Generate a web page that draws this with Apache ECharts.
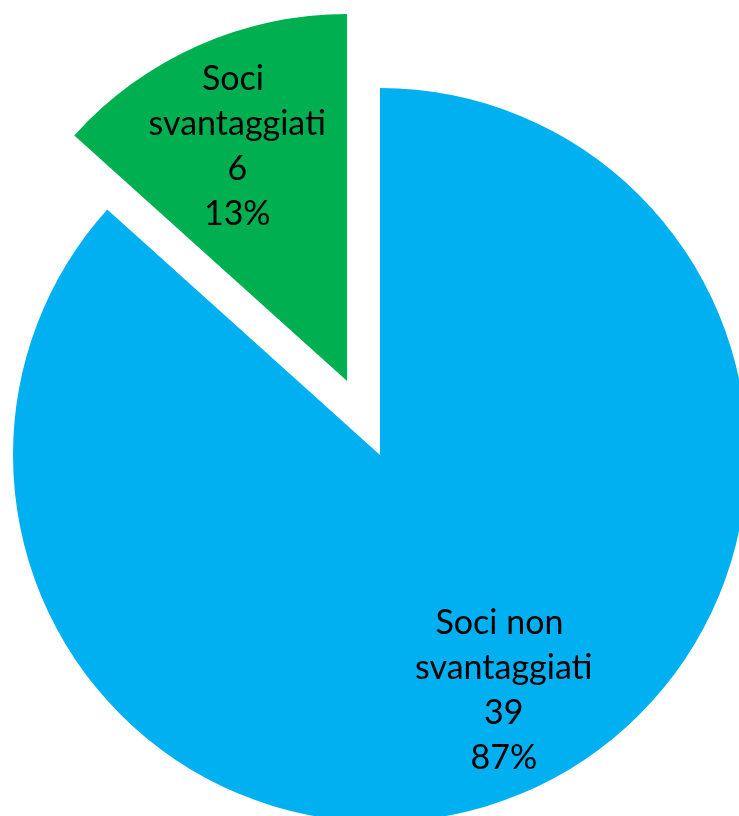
<!DOCTYPE html>
<html>
<head>
<meta charset="utf-8">
<script src="https://cdn.jsdelivr.net/npm/echarts@6/dist/echarts.min.js"></script>
<style>
html,body{margin:0;padding:0;background:#fff;}
#chart{width:739px;height:816px;}
</style>
</head>
<body>
<div id="chart"></div>
<script>
const categories = ['Soci non svantaggiati', 'Soci svantaggiati'];
const values = [39, 6];
const colors = ['#00B0F0', '#00B050'];
const exploded = [false, true];

const chart = echarts.init(document.getElementById('chart'));
const center = [380, 455];
const R = 367;
const OFF = 81;

const shapeData = categories.map((n, i) => ({
  name: n, value: values[i], selected: exploded[i],
  itemStyle: { color: colors[i] }
}));
const labelOffsets = [[16, -7], [-2, 8]];
const labelData = categories.map((n, i) => ({
  name: n, value: values[i], selected: exploded[i],
  label: { offset: labelOffsets[i] },
  select: { label: { offset: labelOffsets[i] } }
}));

chart.setOption({
  animation: false,
  backgroundColor: '#fff',
  series: [
    {
      type: 'pie',
      center: center,
      radius: [0, R],
      startAngle: 90,
      clockwise: true,
      selectedMode: 'multiple',
      selectedOffset: OFF,
      silent: true,
      label: { show: false },
      labelLine: { show: false },
      emphasis: { disabled: true },
      data: shapeData
    },
    {
      type: 'pie',
      center: center,
      radius: [157, R],
      startAngle: 90,
      clockwise: true,
      selectedMode: 'multiple',
      selectedOffset: OFF,
      percentPrecision: 0,
      silent: true,
      itemStyle: { color: 'rgba(0,0,0,0)' },
      emphasis: { disabled: true },
      labelLine: { show: false },
      label: {
        show: true,
        position: 'inside',
        formatter: '{b}\n{c}\n{d}%',
        fontFamily: 'Lato',
        fontSize: 34,
        lineHeight: 45,
        color: '#000',
        width: 200,
        overflow: 'break',
        align: 'center'
      },
      data: labelData
    }
  ]
});
</script>
</body>
</html>
